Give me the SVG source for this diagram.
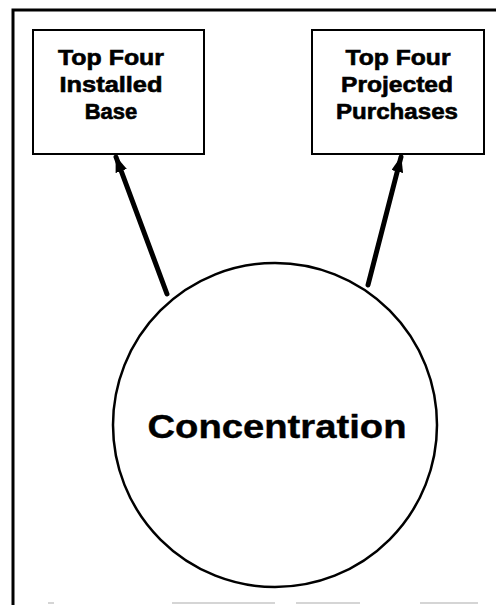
<svg xmlns="http://www.w3.org/2000/svg" width="496" height="605" viewBox="0 0 496 605">
  <style>
    .frame { stroke: #000; stroke-width: 3; fill: none; }
    .box { fill: #fff; stroke: #000; stroke-width: 2; }
    .label { font-family: "Liberation Sans", Arial, sans-serif; font-weight: bold; font-size: 22px; fill: #000; stroke: #000; stroke-width: 0.6; text-anchor: middle; }
    .big { font-family: "Liberation Sans", Arial, sans-serif; font-weight: bold; font-size: 34px; fill: #000; stroke: #000; stroke-width: 0.4; text-anchor: middle; }
    .conn { stroke: #000; stroke-width: 5; fill: none; stroke-linecap: round; }
  </style>
  <defs>
    <marker id="head" viewBox="0 0 16 12" refX="15" refY="6" markerWidth="16" markerHeight="12" markerUnits="userSpaceOnUse" orient="auto">
      <path d="M0,0 L16,6 L0,12 Z" fill="#000"/>
    </marker>
  </defs>
  <rect width="496" height="605" fill="#fff"/>

  <!-- page frame -->
  <g id="frame">
    <path class="frame" d="M13,605 L13,10 L496,10"/>
    <path d="M48,603 H54 M172,603 H275 M296,603 H360 M420,603 H478" stroke="#c8c8c8" stroke-width="1.5"/>
  </g>

  <g id="installed-base">
    <rect class="box" x="33" y="30" width="171" height="124"/>
    <text class="label" x="111" y="65" textLength="106" lengthAdjust="spacingAndGlyphs">Top Four</text>
    <text class="label" x="111" y="92" textLength="103" lengthAdjust="spacingAndGlyphs">Installed</text>
    <text class="label" x="111" y="119">Base</text>
  </g>

  <g id="projected-purchases">
    <rect class="box" x="312" y="30" width="172" height="124"/>
    <text class="label" x="398" y="65" textLength="105" lengthAdjust="spacingAndGlyphs">Top Four</text>
    <text class="label" x="397" y="92" textLength="112" lengthAdjust="spacingAndGlyphs">Projected</text>
    <text class="label" x="397" y="119" textLength="122" lengthAdjust="spacingAndGlyphs">Purchases</text>
  </g>

  <g id="concentration">
    <circle cx="275" cy="425" r="162" fill="#fff" stroke="#000" stroke-width="2.5"/>
    <text class="big" x="277" y="438" textLength="259" lengthAdjust="spacingAndGlyphs">Concentration</text>
  </g>

  <g id="connectors">
    <line class="conn" x1="167" y1="294" x2="116" y2="157" marker-end="url(#head)"/>
    <line class="conn" x1="368" y1="285" x2="401" y2="157" marker-end="url(#head)"/>
  </g>
</svg>
